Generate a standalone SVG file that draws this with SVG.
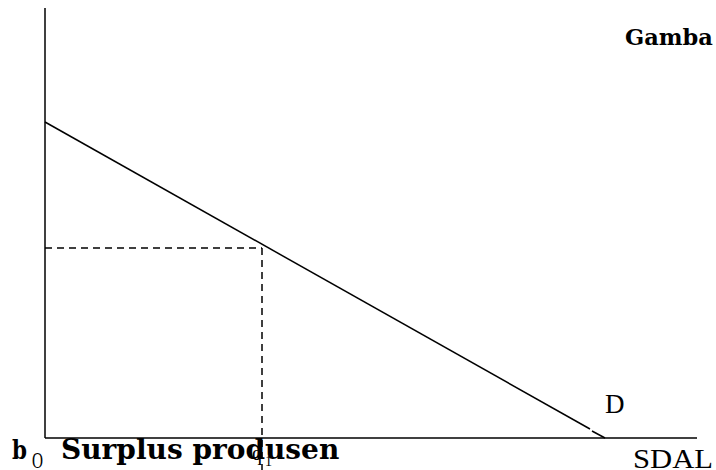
<svg xmlns="http://www.w3.org/2000/svg" width="716" height="470" viewBox="0 0 716 470">
<style>
.ax{stroke:#000;stroke-width:1.5;fill:none}
.ds{stroke:#000;stroke-width:1.5;fill:none;stroke-dasharray:7,5}
.b{font-family:"DejaVu Serif",serif;font-weight:bold;fill:#000}
.r{font-family:"Liberation Serif","Times New Roman",serif;fill:#000}
</style>
<rect width="716" height="470" fill="#fff"/>
<g id="connectors">
<line class="ax" x1="45" y1="8" x2="45" y2="438"/>
<line class="ax" x1="45" y1="438" x2="697" y2="438"/>
<line class="ds" x1="45" y1="248" x2="262" y2="248"/>
<line class="ds" x1="262" y1="248" x2="262" y2="470"/>
</g>
<g id="demand">
<line class="ax" x1="45" y1="122" x2="590" y2="429"/>
<line class="ax" x1="592" y1="431" x2="605" y2="438"/>
<text class="r" x="605" y="413" font-size="27">D</text>
</g>
<g id="labels">
<text class="b" x="625" y="45" font-size="22.5">Gamba</text>
<text class="r" x="633" y="468" font-size="27" textLength="80" lengthAdjust="spacingAndGlyphs">SDAL</text>
<text class="r" x="252" y="460" font-size="20">q</text>
<text class="r" x="265" y="466" font-size="14">1</text>
<text class="r" x="32" y="468" font-size="24" textLength="11" lengthAdjust="spacingAndGlyphs">O</text>
<text class="b" x="12" y="459" font-size="26" textLength="15" lengthAdjust="spacingAndGlyphs">b</text>
<text class="b" x="61" y="459" font-size="28">Surplus produsen</text>
</g>
</svg>
